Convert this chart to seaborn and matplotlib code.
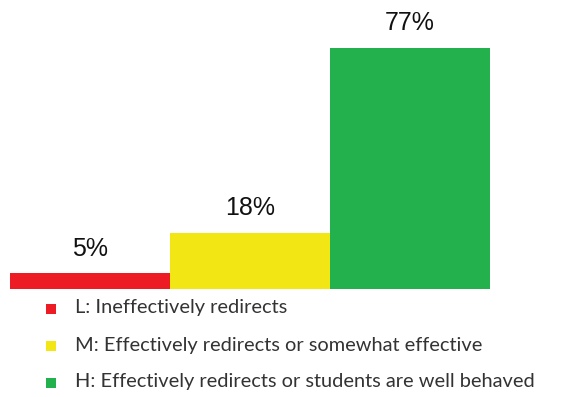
import matplotlib
matplotlib.use("Agg")
import matplotlib.pyplot as plt
import matplotlib.patheffects as pe
from matplotlib.patches import Rectangle
import seaborn as sns
import pandas as pd

levels = ["L", "M", "H"]
shares = [5, 18, 77]
value_labels = ["5%", "18%", "77%"]
legend_labels = [
    "L: Ineffectively redirects",
    "M: Effectively redirects or somewhat effective",
    "H: Effectively redirects or students are well behaved",
]
colors = ["#ED1C24", "#F2E614", "#22B14C"]

df = pd.DataFrame({"level": levels, "share": shares})

sns.set_theme(style="white")
plt.rcParams["font.family"] = ["Liberation Sans", "DejaVu Sans"]

fig = plt.figure(figsize=(5.74, 3.97), dpi=100)
W, H = 574, 397
ax = fig.add_axes([10 / W, (H - 289) / H, 480 / W, (289 - 48) / H])

sns.barplot(data=df, x="level", y="share", hue="level", palette=colors,
            width=1.0, dodge=False, legend=False, ax=ax, saturation=1)

for bar in ax.patches:
    bar.set_edgecolor("none")
    bar.set_path_effects([pe.SimplePatchShadow(offset=(1.5, -1.5), shadow_rgbFace="#999999", alpha=0.35),
                          pe.Normal()])

ax.set_xlim(-0.5, 2.5)
ax.set_ylim(0, 77)
ax.axis("off")

for i, (v, lab) in enumerate(zip(shares, value_labels)):
    ax.annotate(lab, (i, v), xytext=(0, 9), textcoords="offset points",
                ha="center", va="bottom", fontsize=18, color="#111111")

# legend rows below the bars: small colour square followed by the label
row_y = [309, 346, 383]
for y, c, lab in zip(row_y, colors, legend_labels):
    fig.add_artist(Rectangle((46 / W, 1 - (y + 5) / H), 10 / W, 10 / H,
                             transform=fig.transFigure, facecolor=c,
                             edgecolor="none"))
    fig.text(75 / W, 1 - (y - 1) / H, lab, ha="left", va="center",
             fontsize=14.4, family="Lato", color="#333333")

fig.savefig("out.png", dpi=100)
